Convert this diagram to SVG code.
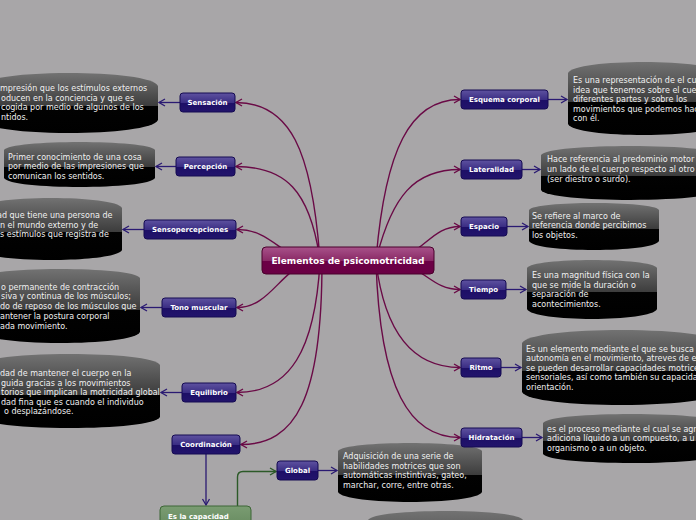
<svg xmlns="http://www.w3.org/2000/svg" width="696" height="520" viewBox="0 0 696 520">
<style>
.bg{fill:#a8a6a8}
.box{fill:url(#gBox)}
.bt{font-family:"DejaVu Sans",Verdana,sans-serif;font-size:8px;fill:#f0f0f0}
.node rect{fill:url(#gNode);stroke:#150a52;stroke-width:1}
.nt{font-family:"DejaVu Sans",Verdana,sans-serif;font-size:7px;font-weight:bold;fill:#ffffff;text-anchor:middle}
.cm{fill:none;stroke:#6a0a46;stroke-width:1.4;marker-end:url(#mM)}
.cp{fill:none;stroke:#2a1a72;stroke-width:1.3;marker-end:url(#mP)}
.cg{fill:none;stroke:#2c5a28;stroke-width:1.4;marker-end:url(#mG)}
</style>
<defs>
<linearGradient id="gBox" x1="0" y1="0" x2="0" y2="1">
<stop offset="0" stop-color="#727272"/>
<stop offset="0.55" stop-color="#3c3c3c"/>
<stop offset="0.551" stop-color="#020202"/>
<stop offset="1" stop-color="#000000"/>
</linearGradient>
<linearGradient id="gNode" x1="0" y1="0" x2="0" y2="1">
<stop offset="0" stop-color="#5e52a0"/>
<stop offset="0.5" stop-color="#3b2e84"/>
<stop offset="0.52" stop-color="#1d0f66"/>
<stop offset="1" stop-color="#22146c"/>
</linearGradient>
<linearGradient id="gMain" x1="0" y1="0" x2="0" y2="1">
<stop offset="0" stop-color="#a8528a"/>
<stop offset="0.5" stop-color="#8a2a66"/>
<stop offset="0.52" stop-color="#6c0046"/>
<stop offset="1" stop-color="#6a0044"/>
</linearGradient>
<linearGradient id="gGreen" x1="0" y1="0" x2="0" y2="1">
<stop offset="0" stop-color="#7a9c72"/>
<stop offset="1" stop-color="#5f8358"/>
</linearGradient>
<marker id="mM" markerUnits="userSpaceOnUse" markerWidth="10" markerHeight="10" refX="6" refY="3.5" orient="auto" overflow="visible">
<path d="M0,0 L6,3.5 L0,7" fill="none" stroke="#6a0a46" stroke-width="1.4"/>
</marker>
<marker id="mP" markerUnits="userSpaceOnUse" markerWidth="10" markerHeight="10" refX="6" refY="3.5" orient="auto" overflow="visible">
<path d="M0,0 L6,3.5 L0,7" fill="none" stroke="#2a1a72" stroke-width="1.3"/>
</marker>
<marker id="mG" markerUnits="userSpaceOnUse" markerWidth="10" markerHeight="10" refX="6" refY="3.5" orient="auto" overflow="visible">
<path d="M0,0 L6,3.5 L0,7" fill="none" stroke="#2c5a28" stroke-width="1.4"/>
</marker>
</defs>
<rect class="bg" x="0" y="0" width="696" height="520"/>

<g id="connectors">
<path class="cm" d="M320,260 C312,150 290,102.5 236,102.5"/>
<path class="cm" d="M320,260 C310,190 285,166.5 236,166.5"/>
<path class="cm" d="M310,262 C280,255 270,229.5 237,229.5"/>
<path class="cm" d="M310,262 C280,270 270,307.5 237,307.5"/>
<path class="cm" d="M320,262 C315,350 290,392.5 237,392.5"/>
<path class="cm" d="M322,262 C322,400 295,444.5 241,444.5"/>
<path class="cm" d="M376,260 C385,150 410,99.5 460,99.5"/>
<path class="cm" d="M376,260 C392,195 415,169.5 460,169.5"/>
<path class="cm" d="M390,260 C425,255 430,226.5 460,226.5"/>
<path class="cm" d="M390,262 C425,265 430,289.5 460,289.5"/>
<path class="cm" d="M376,262 C385,335 415,367.5 460,367.5"/>
<path class="cm" d="M376,262 C380,390 410,437.5 460,437.5"/>
<path class="cp" d="M180,102.5 L159,102.5"/>
<path class="cp" d="M176,166.5 L156,166.5"/>
<path class="cp" d="M144,229.5 L123,229.5"/>
<path class="cp" d="M162,307.5 L141,307.5"/>
<path class="cp" d="M182,392.5 L161,392.5"/>
<path class="cp" d="M548,99.5 L567,99.5"/>
<path class="cp" d="M522,169.5 L540,169.5"/>
<path class="cp" d="M507,226.5 L528,226.5"/>
<path class="cp" d="M506,289.5 L526,289.5"/>
<path class="cp" d="M501,367.5 L521,367.5"/>
<path class="cp" d="M522,437.5 L542,437.5"/>
<path class="cp" d="M318,470.5 L337,470.5"/>
<path class="cp" d="M206,454 L206,505"/>
<path class="cg" d="M237.5,506 L237.5,477 Q237.5,471.5 243,471.5 L276,471.5"/>
</g>

<g id="txt-sensacion">
<path class="box" d="M-20,86 C-13,68.7 151,68.7 158,86 L158,120 C151,137.3 -13,137.3 -20,120 Z"/>
<text class="bt" x="0" y="91">mpresión que los estímulos externos</text>
<text class="bt" x="1" y="100.5">oducen en la conciencia y que es</text>
<text class="bt" x="1" y="110">cogida por medio de algunos de los</text>
<text class="bt" x="1" y="119.5">ntidos.</text>
</g>
<g id="txt-percepcion">
<path class="box" d="M4,150 C10,139.3 149,139.3 155,150 L155,178 C149,190 10,190 4,178 Z"/>
<text class="bt" x="8" y="159.5">Primer conocimiento de una cosa</text>
<text class="bt" x="8" y="169">por medio de las impresiones que</text>
<text class="bt" x="8" y="178.5">comunican los sentidos.</text>
</g>
<g id="txt-sensopercepciones">
<path class="box" d="M-20,208 C-14,194.7 116,194.7 122,208 L122,250 C116,263.3 -14,263.3 -20,250 Z"/>
<text class="bt" x="-3" y="218">ad que tiene una persona de</text>
<text class="bt" x="0" y="227.5">n el mundo externo y de</text>
<text class="bt" x="0" y="237">s estímulos que registra de</text>
</g>
<g id="txt-tono">
<path class="box" d="M-20,278 C-14,266 134,266 140,278 L140,332 C134,346.7 -14,346.7 -20,332 Z"/>
<text class="bt" x="1" y="289.5">o permanente de contracción</text>
<text class="bt" x="1" y="299.2">siva y continua de los músculos;</text>
<text class="bt" x="0" y="309">do de reposo de los músculos que</text>
<text class="bt" x="0" y="318.7">antener la postura corporal</text>
<text class="bt" x="0" y="328.5">ada movimiento.</text>
</g>
<g id="txt-equilibrio">
<path class="box" d="M-20,365 C-13,350.3 153,350.3 160,365 L160,417 C153,431.7 -13,431.7 -20,417 Z"/>
<text class="bt" x="0" y="376">dad de mantener el cuerpo en la</text>
<text class="bt" x="1" y="385.5">guida gracias a los movimientos</text>
<text class="bt" x="1" y="395">torios que implican la motricidad global</text>
<text class="bt" x="1" y="404.5">dad fina que es cuando el individuo</text>
<text class="bt" x="4" y="414">o desplazándose.</text>
</g>
<g id="txt-esquema">
<path class="box" d="M568,73 C574,58.3 714,58.3 720,73 L720,124 C714,138.7 574,138.7 568,124 Z"/>
<text class="bt" x="573" y="83">Es una representación de el cu</text>
<text class="bt" x="573" y="92.5">idea que tenemos sobre el cue</text>
<text class="bt" x="573" y="102">diferentes partes y sobre los</text>
<text class="bt" x="573" y="111.5">movimientos que podemos hac</text>
<text class="bt" x="573" y="121">con él.</text>
</g>
<g id="txt-lateralidad">
<path class="box" d="M541,155 C548,143 713,143 720,155 L720,190 C713,203.3 548,203.3 541,190 Z"/>
<text class="bt" x="547" y="162">Hace referencia al predominio motor</text>
<text class="bt" x="547" y="172">un lado de el cuerpo respecto al otro</text>
<text class="bt" x="547" y="182">(ser diestro o surdo).</text>
</g>
<g id="txt-espacio">
<path class="box" d="M529,210 C534,200.7 654,200.7 659,210 L659,241 C654,253 534,253 529,241 Z"/>
<text class="bt" x="532" y="218.5">Se refiere al marco de</text>
<text class="bt" x="532" y="228">referencia donde percibimos</text>
<text class="bt" x="532" y="237.5">los objetos.</text>
</g>
<g id="txt-tiempo">
<path class="box" d="M527,268 C532,257.3 652,257.3 657,268 L657,309 C652,322.3 532,322.3 527,309 Z"/>
<text class="bt" x="532" y="278">Es una magnitud física con la</text>
<text class="bt" x="532" y="287.5">que se mide la duración o</text>
<text class="bt" x="532" y="297">separación de</text>
<text class="bt" x="532" y="306.5">acontecimientos.</text>
</g>
<g id="txt-ritmo">
<path class="box" d="M522,343 C530,325.7 712,325.7 720,343 L720,392 C712,409.3 530,409.3 522,392 Z"/>
<text class="bt" x="526" y="351.5">Es un elemento mediante el que se busca</text>
<text class="bt" x="526" y="361">autonomía en el movimiento, atreves de e</text>
<text class="bt" x="526" y="370.5">se pueden desarrollar capacidades motrice</text>
<text class="bt" x="526" y="380">sensoriales, así como también su capacida</text>
<text class="bt" x="526" y="389.5">orientación.</text>
</g>
<g id="txt-hidratacion">
<path class="box" d="M543,423 C550,411 713,411 720,423 L720,454 C713,466 550,466 543,454 Z"/>
<text class="bt" x="547" y="431.5">es el proceso mediante el cual se agr</text>
<text class="bt" x="547" y="441">adiciona líquido a un compuesto, a u</text>
<text class="bt" x="547" y="450.5">organismo o a un objeto.</text>
</g>
<g id="txt-global">
<path class="box" d="M338,451 C344,440.3 476,440.3 482,451 L482,492 C476,505.3 344,505.3 338,492 Z"/>
<text class="bt" x="343" y="459">Adquisición de una serie de</text>
<text class="bt" x="343" y="468.5">habilidades motrices que son</text>
<text class="bt" x="343" y="478">automáticas instintivas, gateo,</text>
<text class="bt" x="343" y="487.5">marchar, corre, entre otras.</text>
</g>
<g id="txt-bottom">
<path class="box" d="M368,520 C374,508 517,508 523,520 L523,600 L368,600 Z"/>
</g>

<g id="central">
<rect x="262" y="247" width="172" height="27" rx="4" fill="url(#gMain)" stroke="#4a002c" stroke-width="1"/>
<text x="348" y="263.5" font-family="DejaVu Sans, Verdana, sans-serif" font-size="9" font-weight="bold" fill="#ffffff" text-anchor="middle">Elementos de psicomotricidad</text>
</g>
<g id="n-sensacion" class="node"><rect x="180" y="93" width="55" height="19" rx="3"/><text class="nt" x="207.5" y="105">Sensación</text></g>
<g id="n-percepcion" class="node"><rect x="176" y="157" width="59" height="19" rx="3"/><text class="nt" x="205.5" y="169">Percepción</text></g>
<g id="n-sensopercepciones" class="node"><rect x="144" y="220" width="92" height="19" rx="3"/><text class="nt" x="190" y="232">Sensopercepciones</text></g>
<g id="n-tono" class="node"><rect x="162" y="298" width="74" height="19" rx="3"/><text class="nt" x="199" y="310">Tono muscular</text></g>
<g id="n-equilibrio" class="node"><rect x="182" y="383" width="54" height="19" rx="3"/><text class="nt" x="209" y="395">Equilibrio</text></g>
<g id="n-coordinacion" class="node"><rect x="172" y="435" width="68" height="19" rx="3"/><text class="nt" x="206" y="447">Coordinación</text></g>
<g id="n-esquema" class="node"><rect x="461" y="90" width="87" height="19" rx="3"/><text class="nt" x="504.5" y="102">Esquema corporal</text></g>
<g id="n-lateralidad" class="node"><rect x="461" y="160" width="61" height="19" rx="3"/><text class="nt" x="491.5" y="172">Lateralidad</text></g>
<g id="n-espacio" class="node"><rect x="461" y="217" width="46" height="19" rx="3"/><text class="nt" x="484" y="229">Espacio</text></g>
<g id="n-tiempo" class="node"><rect x="461" y="280" width="45" height="19" rx="3"/><text class="nt" x="483.5" y="292">Tiempo</text></g>
<g id="n-ritmo" class="node"><rect x="461" y="358" width="40" height="19" rx="3"/><text class="nt" x="481" y="370">Ritmo</text></g>
<g id="n-hidratacion" class="node"><rect x="461" y="428" width="61" height="19" rx="3"/><text class="nt" x="491.5" y="440">Hidratación</text></g>
<g id="n-global" class="node"><rect x="277" y="461" width="41" height="19" rx="3"/><text class="nt" x="297.5" y="473">Global</text></g>
<g id="n-capacidad">
<rect x="160" y="506" width="91" height="30" rx="4" fill="url(#gGreen)" stroke="#3d6636" stroke-width="1"/>
<text x="168" y="518.5" font-family="DejaVu Sans, Verdana, sans-serif" font-size="7px" font-weight="bold" fill="#ffffff">Es la capacidad</text>
</g>
</svg>
